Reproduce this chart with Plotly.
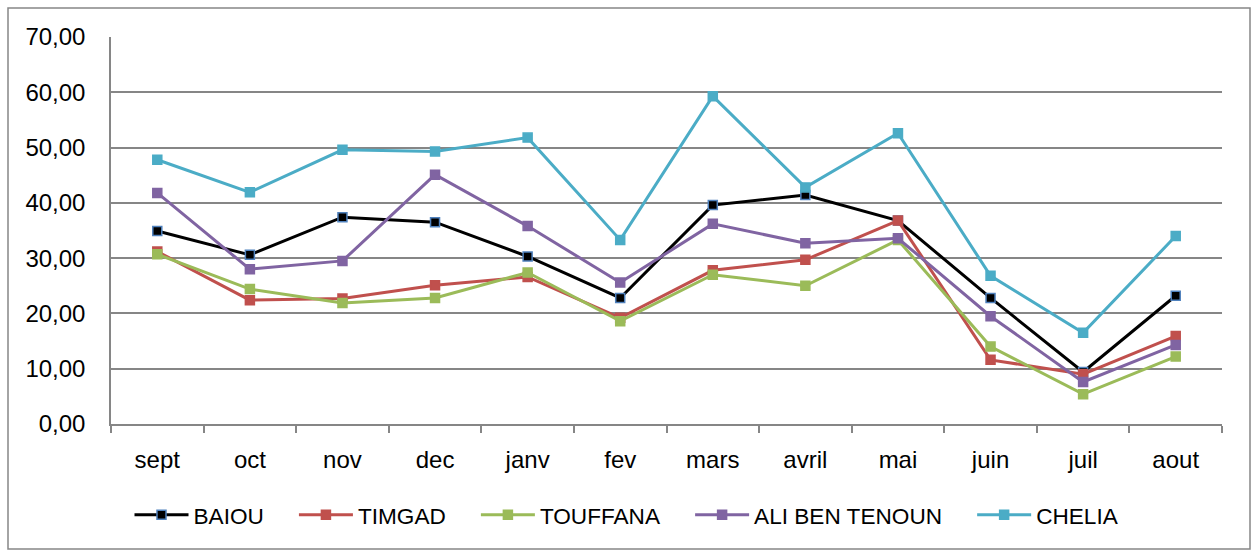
import plotly.graph_objects as go

months = ["sept", "oct", "nov", "dec", "janv", "fev", "mars", "avril", "mai", "juin", "juil", "aout"]

baiou = [34.9, 30.6, 37.4, 36.5, 30.3, 22.8, 39.6, 41.4, 36.8, 22.8, 9.4, 23.2]
timgad = [31.2, 22.4, 22.7, 25.1, 26.6, 19.2, 27.8, 29.7, 36.8, 11.6, 9.0, 15.9]
touffana = [30.7, 24.4, 21.9, 22.8, 27.4, 18.6, 27.0, 25.0, 33.3, 14.0, 5.4, 12.2]
ali_ben_tenoun = [41.8, 28.0, 29.5, 45.1, 35.8, 25.6, 36.2, 32.7, 33.6, 19.5, 7.6, 14.3]
chelia = [47.8, 41.9, 49.6, 49.3, 51.8, 33.3, 59.3, 42.8, 52.6, 26.8, 16.5, 34.0]

series = [
    ("BAIOU", baiou, "#000000", "#000000", "#4F81BD"),
    ("TIMGAD", timgad, "#C0504D", "#C0504D", "#C0504D"),
    ("TOUFFANA", touffana, "#9BBB59", "#9BBB59", "#9BBB59"),
    ("ALI BEN TENOUN", ali_ben_tenoun, "#8064A2", "#8064A2", "#8064A2"),
    ("CHELIA", chelia, "#4BACC6", "#4BACC6", "#4BACC6"),
]

FONT = "Liberation Sans, Arial, sans-serif"
PAD = "\u00a0" * 4

fig = go.Figure()
for i, (name, vals, lc, mc, mlc) in enumerate(series):
    fig.add_trace(go.Scatter(
        x=months, y=vals, name=name + (PAD if i < len(series) - 1 else ""), mode="lines+markers",
        line=dict(color=lc, width=3),
        marker=dict(symbol="square", size=9, color=mc, line=dict(color=mlc, width=1.5)),
    ))

W, H = 1252, 551
L, R, T, B = 111, 30, 37, 127
pw, ph = W - L - R, H - T - B

fig.update_layout(
    width=W, height=H,
    margin=dict(l=L, r=R, t=T, b=B, pad=0),
    paper_bgcolor="white", plot_bgcolor="white",
    separators=", ",
    font=dict(family=FONT, size=24, color="black"),
    showlegend=True,
    legend=dict(
        orientation="h", xref="container", yref="container",
        x=(631 - 4) / W, xanchor="center", y=(H - 515) / H, yanchor="middle",
        font=dict(family=FONT, size=22.6, color="black"),
        itemwidth=54, tracegroupgap=0,
    ),
    xaxis=dict(
        type="category", range=[-0.5, 11.5], showgrid=False, showline=True, linecolor="#868686", linewidth=1.5,
        ticks="outside", tickson="boundaries", ticklen=7, tickcolor="#868686", tickwidth=1.5,
        ticklabelstandoff=13, zeroline=False,
    ),
    yaxis=dict(
        range=[0, 70], dtick=10, tickformat=".2f", showgrid=True, gridcolor="#868686", gridwidth=1.5,
        showline=True, linecolor="#868686", linewidth=1.5, zeroline=False,
        ticks="", ticklabelstandoff=19,
    ),
    shapes=[dict(
        type="rect", xref="paper", yref="paper",
        x0=(8 - L) / pw, x1=(1250 - L) / pw,
        y0=(H - B - 549) / ph, y1=(H - B - 8) / ph,
        line=dict(color="#868686", width=1.5), fillcolor="rgba(0,0,0,0)", layer="below",
    )],
)

fig.write_html("out.html", config={"displayModeBar": False},
               post_script="document.body.style.margin='0';document.body.style.padding='0';")
